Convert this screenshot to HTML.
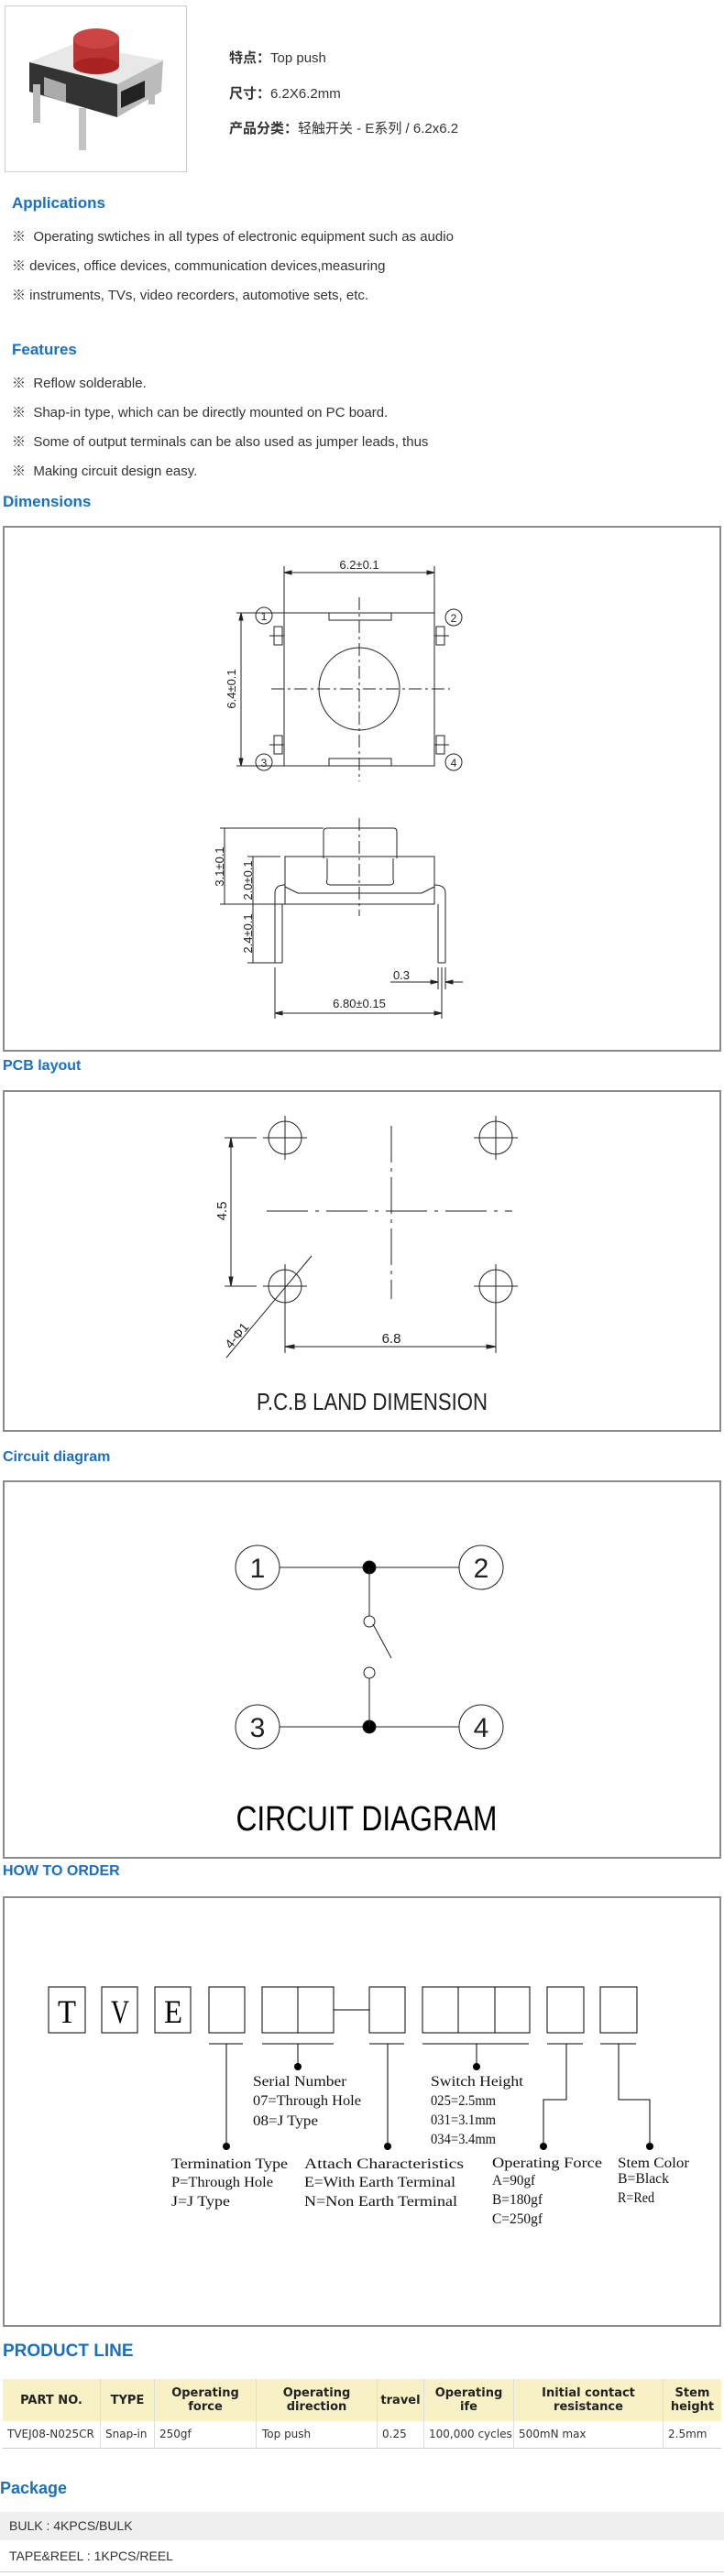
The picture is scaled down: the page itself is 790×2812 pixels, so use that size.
<!DOCTYPE html>
<html><head><meta charset="utf-8"><style>
body{margin:0;width:790px;height:2812px;position:relative;background:#fff;font-family:"Liberation Sans","Noto Sans CJK SC",sans-serif;color:#333;overflow:hidden}
.a{position:absolute;white-space:nowrap}
.h{position:absolute;color:#1a6fc0;font-weight:bold;font-size:17px;white-space:nowrap}
.t{position:absolute;font-size:15px;white-space:nowrap;color:#333}
.box{position:absolute;border:2px solid #8a8a8a;box-sizing:border-box}
svg{position:absolute;left:0;top:0}
table{position:absolute;border-collapse:collapse;font-family:"DejaVu Sans","Liberation Sans",sans-serif}
</style></head><body>

<!-- product image -->
<div class="box" style="left:5px;top:6px;width:199px;height:182px;border:1px solid #ccc"></div>
<svg width="210" height="200" viewBox="0 0 210 200">
  <polygon points="32,68 80,48 178,66 128,92" fill="#e8e8e8"/>
  <polygon points="32,68 128,92 128,128 32,100" fill="#333"/>
  <polygon points="128,92 178,66 176,100 128,128" fill="#bbb"/>
  <polygon points="48,84 72,92 72,112 48,104" fill="#aaa"/>
  <polygon points="132,100 158,88 158,106 132,118" fill="#222"/>
  <rect x="36" y="92" width="8" height="42" fill="#bbb"/>
  <rect x="86" y="118" width="8" height="46" fill="#c4c4c4"/>
  <rect x="162" y="88" width="7" height="26" fill="#bbb"/>
  <rect x="80" y="42" width="50" height="30" fill="#b33"/>
  <ellipse cx="105" cy="72" rx="25" ry="9" fill="#a22"/>
  <ellipse cx="105" cy="42" rx="25" ry="11" fill="#c44"/>
</svg>
<div class="t" style="left:250px;top:52px;font-size:15px"><b>特点：</b>Top push</div>
<div class="t" style="left:250px;top:91px;font-size:15px"><b>尺寸：</b>6.2X6.2mm</div>
<div class="t" style="left:250px;top:129px;font-size:15px"><b>产品分类：</b>轻触开关 - E系列 / 6.2x6.2</div>

<div class="h" style="left:13px;top:212px">Applications</div>
<div class="t" style="left:13px;top:247px">※&nbsp; Operating swtiches in all types of electronic equipment such as audio</div>
<div class="t" style="left:13px;top:279px">※ devices, office devices, communication devices,measuring</div>
<div class="t" style="left:13px;top:311px">※ instruments, TVs, video recorders, automotive sets, etc.</div>

<div class="h" style="left:13px;top:372px">Features</div>
<div class="t" style="left:13px;top:407px">※&nbsp; Reflow solderable.</div>
<div class="t" style="left:13px;top:439px">※&nbsp; Shap-in type, which can be directly mounted on PC board.</div>
<div class="t" style="left:13px;top:471px">※&nbsp; Some of output terminals can be also used as jumper leads, thus</div>
<div class="t" style="left:13px;top:503px">※&nbsp; Making circuit design easy.</div>

<div class="h" style="left:3px;top:538px">Dimensions</div>
<div class="box" style="left:3px;top:574px;width:784px;height:574px"></div>

<div class="h" style="left:3px;top:1155px;font-size:16px">PCB layout</div>
<div class="box" style="left:3px;top:1190px;width:784px;height:373px"></div>

<div class="h" style="left:3px;top:1582px;font-size:16px">Circuit diagram</div>
<div class="box" style="left:3px;top:1616px;width:784px;height:413px"></div>

<div class="h" style="left:3px;top:2034px;font-size:16px">HOW TO ORDER</div>
<div class="box" style="left:3px;top:2070px;width:784px;height:470px"></div>

<svg width="790" height="2812" viewBox="0 0 790 2812" font-family="Liberation Sans, sans-serif" fill="none" stroke="#222" stroke-width="1">
 <!-- DIMENSIONS top view -->
 <rect x="310" y="669" width="164" height="167"/>
 <rect x="359" y="669" width="68" height="8"/>
 <rect x="359" y="828" width="68" height="8"/>
 <rect x="299" y="684" width="9" height="20"/><line x1="294" y1="694" x2="310" y2="694"/>
 <rect x="299" y="803" width="9" height="20"/><line x1="294" y1="813" x2="310" y2="813"/>
 <rect x="476" y="684" width="9" height="20"/><line x1="474" y1="694" x2="490" y2="694"/>
 <rect x="476" y="803" width="9" height="20"/><line x1="474" y1="813" x2="490" y2="813"/>
 <ellipse cx="392" cy="752" rx="44" ry="45"/>
 <line x1="392" y1="652" x2="392" y2="853" stroke-dasharray="14,4,3,4"/>
 <line x1="296" y1="752" x2="491" y2="752" stroke-dasharray="14,4,3,4"/>
 <line x1="310" y1="618" x2="310" y2="669"/><line x1="474" y1="618" x2="474" y2="669"/>
 <line x1="310" y1="625" x2="474" y2="625"/>
 <polygon points="310,625 318,623 318,627" fill="#222"/><polygon points="474,625 466,623 466,627" fill="#222"/>
 <line x1="258" y1="669" x2="310" y2="669"/><line x1="258" y1="836" x2="310" y2="836"/>
 <line x1="263" y1="669" x2="263" y2="836"/>
 <polygon points="263,669 261,677 265,677" fill="#222"/><polygon points="263,836 261,828 265,828" fill="#222"/>
 <circle cx="288" cy="672" r="9"/><circle cx="495" cy="674" r="9"/><circle cx="288" cy="832" r="9"/><circle cx="495" cy="832" r="9"/>
 <g fill="#222" stroke="none" font-size="13" text-anchor="middle">
  <text x="392" y="621">6.2±0.1</text>
  <text x="288" y="677" font-size="12">1</text><text x="495" y="679" font-size="12">2</text>
  <text x="288" y="837" font-size="12">3</text><text x="495" y="837" font-size="12">4</text>
  <text transform="translate(257,752) rotate(-90)">6.4±0.1</text>
  <text transform="translate(244,946) rotate(-90)">3.1±0.1</text>
  <text transform="translate(275,961) rotate(-90)">2.0±0.1</text>
  <text transform="translate(275,1019) rotate(-90)">2.4±0.1</text>
  <text x="392" y="1100">6.80±0.15</text>
  <text x="438" y="1069">0.3</text>
 </g>
 <!-- side view -->
 <path d="M353,937 L353,908 Q353,904 357,904 L429,904 Q433,904 433,908 L433,937"/>
 <rect x="311" y="935" width="163" height="52"/>
 <path d="M357,937 L357,960 Q355,966 361,966 L425,966 Q431,966 429,960 L429,937"/>
 <path d="M311,968 L325,975 L460,975 L474,968"/>
 <path d="M300,1051 L300,975 Q300,966 311,966 M308,1051 L308,987"/>
 <path d="M486,1051 L486,975 Q486,966 474,966 M478,1051 L478,987"/>
 <line x1="300" y1="1051" x2="308" y2="1051"/><line x1="478" y1="1051" x2="486" y2="1051"/>
 <line x1="392" y1="893" x2="392" y2="1000" stroke-dasharray="14,4,3,4"/>
 <line x1="240" y1="904" x2="353" y2="904"/><line x1="240" y1="987" x2="311" y2="987"/>
 <line x1="270" y1="935" x2="306" y2="935"/><line x1="270" y1="1051" x2="300" y2="1051"/>
 <line x1="245" y1="904" x2="245" y2="987"/><line x1="276" y1="935" x2="276" y2="1051"/>
 <line x1="300" y1="1056" x2="300" y2="1112"/><line x1="482" y1="1056" x2="482" y2="1112"/>
 <line x1="486" y1="1056" x2="486" y2="1080"/><line x1="478" y1="1056" x2="478" y2="1080"/>
 <line x1="300" y1="1106" x2="482" y2="1106"/>
 <polygon points="300,1106 308,1104 308,1108" fill="#222"/><polygon points="482,1106 474,1104 474,1108" fill="#222"/>
 <line x1="426" y1="1072" x2="478" y2="1072"/><line x1="486" y1="1072" x2="505" y2="1072"/>
 <polygon points="478,1072 470,1070 470,1074" fill="#222"/><polygon points="486,1072 494,1070 494,1074" fill="#222"/>

 <!-- PCB -->
 <g>
  <circle cx="311" cy="1242" r="18"/><circle cx="541" cy="1242" r="18"/><circle cx="311" cy="1404" r="18"/><circle cx="541" cy="1404" r="18"/>
  <path d="M287,1242h48M311,1218v48M517,1242h48M541,1218v48M287,1404h48M311,1380v48M517,1404h48M541,1380v48"/>
 </g>
 <line x1="427" y1="1229" x2="427" y2="1418" stroke-dasharray="40,6,4,6"/>
 <line x1="291" y1="1322" x2="559" y2="1322" stroke-dasharray="45,8,4,8"/>
 <line x1="245" y1="1242" x2="280" y2="1242"/><line x1="245" y1="1404" x2="280" y2="1404"/>
 <line x1="252" y1="1242" x2="252" y2="1404"/>
 <polygon points="252,1242 250,1252 254,1252" fill="#222"/><polygon points="252,1404 250,1394 254,1394" fill="#222"/>
 <line x1="311" y1="1410" x2="311" y2="1477"/><line x1="541" y1="1410" x2="541" y2="1477"/>
 <line x1="311" y1="1470" x2="541" y2="1470"/>
 <polygon points="311,1470 321,1468 321,1472" fill="#222"/><polygon points="541,1470 531,1468 531,1472" fill="#222"/>
 <line x1="247" y1="1482" x2="340" y2="1371"/>
 <g fill="#222" stroke="none" text-anchor="middle">
  <text x="427" y="1466" font-size="15">6.8</text>
  <text transform="translate(247,1322) rotate(-90)" font-size="15">4.5</text>
  <text transform="translate(262,1461) rotate(-50)" font-size="14">4-Φ1</text>
  <text x="406" y="1539" font-size="26" textLength="252" lengthAdjust="spacingAndGlyphs">P.C.B LAND DIMENSION</text>
 </g>

 <!-- Circuit -->
 <circle cx="281" cy="1711" r="24"/><circle cx="525" cy="1711" r="24"/><circle cx="281" cy="1885" r="24"/><circle cx="525" cy="1885" r="24"/>
 <line x1="305" y1="1711" x2="501" y2="1711"/><line x1="305" y1="1885" x2="501" y2="1885"/>
 <circle cx="403" cy="1711" r="7" fill="#000"/><circle cx="403" cy="1885" r="7" fill="#000"/>
 <line x1="403" y1="1711" x2="403" y2="1764"/><circle cx="403" cy="1770" r="6"/>
 <line x1="407" y1="1773" x2="427" y2="1810"/>
 <circle cx="403" cy="1826" r="6"/><line x1="403" y1="1832" x2="403" y2="1885"/>
 <g fill="#222" stroke="none" text-anchor="middle" font-size="30">
  <text x="281" y="1722">1</text><text x="525" y="1722">2</text><text x="281" y="1896">3</text><text x="525" y="1896">4</text>
  <text x="400" y="1998" font-size="38" fill="#000" textLength="285" lengthAdjust="spacingAndGlyphs">CIRCUIT DIAGRAM</text>
 </g>

 <!-- HOW TO ORDER -->
 <g stroke="#000">
  <rect x="53" y="2169" width="40" height="50"/><rect x="111" y="2169" width="39" height="50"/><rect x="169" y="2169" width="39" height="50"/>
  <rect x="228" y="2169" width="39" height="50"/>
  <rect x="286" y="2169" width="78" height="50"/><line x1="325" y1="2169" x2="325" y2="2219"/>
  <line x1="364" y1="2194" x2="403" y2="2194"/>
  <rect x="403" y="2169" width="39" height="50"/>
  <rect x="461" y="2169" width="117" height="50"/><line x1="500" y1="2169" x2="500" y2="2219"/><line x1="540" y1="2169" x2="540" y2="2219"/>
  <rect x="597" y="2169" width="40" height="50"/><rect x="655" y="2169" width="40" height="50"/>
  <path d="M228,2231h37M286,2231h78M403,2231h38M461,2231h116M597,2231h39M655,2231h39"/>
  <path d="M247,2231v112M325,2231v25M423,2231v112M520,2231v25M618,2231v61h-25v51M675,2231v61h34v51"/>
 </g>
 <g fill="#000" stroke="none">
  <circle cx="247" cy="2343" r="4"/><circle cx="325" cy="2256" r="4"/><circle cx="423" cy="2343" r="4"/><circle cx="520" cy="2256" r="4"/><circle cx="593" cy="2343" r="4"/><circle cx="709" cy="2343" r="4"/>
 </g>
 <g fill="#000" stroke="none" font-family="Liberation Serif, serif" font-size="36" text-anchor="middle">
  <text x="73" y="2208" textLength="20" lengthAdjust="spacingAndGlyphs">T</text>
  <text x="131" y="2208" textLength="20" lengthAdjust="spacingAndGlyphs">V</text>
  <text x="189" y="2208" textLength="20" lengthAdjust="spacingAndGlyphs">E</text>
 </g>
 <g fill="#111" stroke="none" font-family="Liberation Serif, serif" font-size="16">
  <text x="276" y="2277" textLength="102" lengthAdjust="spacingAndGlyphs">Serial Number</text>
  <text x="276" y="2298" textLength="118" lengthAdjust="spacingAndGlyphs">07=Through Hole</text>
  <text x="276" y="2320" textLength="71" lengthAdjust="spacingAndGlyphs">08=J Type</text>
  <text x="470" y="2277" textLength="101" lengthAdjust="spacingAndGlyphs">Switch Height</text>
  <text x="470" y="2298" textLength="71" lengthAdjust="spacingAndGlyphs">025=2.5mm</text>
  <text x="470" y="2319" textLength="71" lengthAdjust="spacingAndGlyphs">031=3.1mm</text>
  <text x="470" y="2340" textLength="71" lengthAdjust="spacingAndGlyphs">034=3.4mm</text>
  <text x="187" y="2367" textLength="127" lengthAdjust="spacingAndGlyphs">Termination Type</text>
  <text x="187" y="2387" textLength="111" lengthAdjust="spacingAndGlyphs">P=Through Hole</text>
  <text x="187" y="2408" textLength="64" lengthAdjust="spacingAndGlyphs">J=J Type</text>
  <text x="332" y="2367" textLength="174" lengthAdjust="spacingAndGlyphs">Attach Characteristics</text>
  <text x="332" y="2387" textLength="165" lengthAdjust="spacingAndGlyphs">E=With Earth Terminal</text>
  <text x="332" y="2408" textLength="167" lengthAdjust="spacingAndGlyphs">N=Non Earth Terminal</text>
  <text x="537" y="2366" textLength="120" lengthAdjust="spacingAndGlyphs">Operating Force</text>
  <text x="537" y="2385" textLength="47" lengthAdjust="spacingAndGlyphs">A=90gf</text>
  <text x="537" y="2406" textLength="55" lengthAdjust="spacingAndGlyphs">B=180gf</text>
  <text x="537" y="2427" textLength="55" lengthAdjust="spacingAndGlyphs">C=250gf</text>
  <text x="674" y="2366" textLength="78" lengthAdjust="spacingAndGlyphs">Stem Color</text>
  <text x="674" y="2383" textLength="56" lengthAdjust="spacingAndGlyphs">B=Black</text>
  <text x="674" y="2404" textLength="40" lengthAdjust="spacingAndGlyphs">R=Red</text>
 </g>
</svg>

<div class="h" style="left:3px;top:2556px;font-size:19px">PRODUCT LINE</div>
<table style="left:3px;top:2597px;width:784px;font-size:12px">
<tr style="background:#f8f1c6;height:46px;font-weight:bold;font-size:13px;color:#222;text-align:center">
<td style="width:104px">PART NO.</td><td style="width:56px;border-left:1px solid #ddd">TYPE</td><td style="width:108px;border-left:1px solid #ddd">Operating<br>force</td><td style="width:129px;border-left:1px solid #ddd">Operating<br>direction</td><td style="width:48px;border-left:1px solid #ddd">travel</td><td style="width:95px;border-left:1px solid #ddd">Operating<br>ife</td><td style="width:160px;border-left:1px solid #ddd">Initial contact<br>resistance</td><td style="border-left:1px solid #ddd">Stem<br>height</td></tr>
<tr style="height:29px;color:#333;border-bottom:1px solid #ccc"><td style="padding-left:5px">TVEJ08-N025CR</td><td style="border-left:1px solid #ddd;padding-left:5px">Snap-in</td><td style="border-left:1px solid #ddd;padding-left:5px">250gf</td><td style="border-left:1px solid #ddd;padding-left:6px">Top push</td><td style="border-left:1px solid #ddd;padding-left:5px">0.25</td><td style="border-left:1px solid #ddd;padding-left:5px">100,000 cycles</td><td style="border-left:1px solid #ddd;padding-left:5px">500mN max</td><td style="border-left:1px solid #ddd;padding-left:5px">2.5mm</td></tr>
</table>

<div class="h" style="left:0px;top:2706px;font-size:18px">Package</div>
<div class="a" style="left:0;top:2742px;width:790px;height:31px;background:#efefef"></div>
<div class="t" style="left:10px;top:2749px;font-size:14px">BULK : 4KPCS/BULK</div>
<div class="t" style="left:10px;top:2782px;font-size:14px">TAPE&amp;REEL : 1KPCS/REEL</div>
<div class="a" style="left:0;top:2807px;width:790px;height:1px;background:#ccc"></div>
</body></html>
